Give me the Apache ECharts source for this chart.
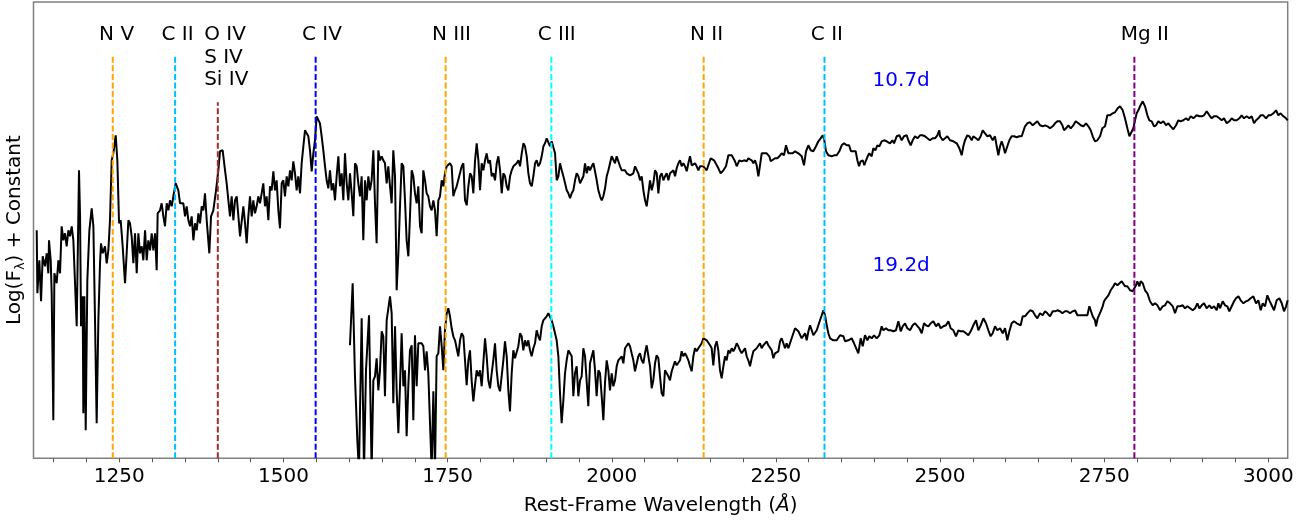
<!DOCTYPE html>
<html><head><meta charset="utf-8">
<script src="https://cdn.jsdelivr.net/npm/echarts@6/dist/echarts.min.js"></script>
<style>html,body{margin:0;padding:0;background:#fff}#c{width:1308px;height:523px}</style>
</head><body><div id="c"></div>
<script>
// Spectrum at 10.7 d : [wavelength (Å), log flux + constant]
const spec107 = [[1124.2,2.28],[1125.2,1.65],[1128.2,1.98],[1130.8,1.57],[1133.3,2.02],[1136.8,1.92],[1139.4,2.05],[1141.9,1.85],[1142.9,2.18],[1145.5,1.98],[1147.0,1.65],[1149.5,0.38],[1151.1,1.85],[1154.6,1.75],[1157.2,1.98],[1159.7,1.85],[1162.2,2.32],[1164.8,2.18],[1167.3,2.25],[1169.8,2.12],[1172.4,2.28],[1174.9,2.22],[1177.5,2.32],[1180.0,2.18],[1185.1,1.32],[1188.6,2.88],[1190.2,2.42],[1191.7,1.32],[1194.2,1.62],[1195.2,0.45],[1196.8,1.62],[1198.8,0.28],[1201.3,1.78],[1204.4,2.28],[1207.9,2.50],[1210.5,2.32],[1213.0,1.38],[1215.5,0.35],[1218.1,1.38],[1220.6,1.95],[1222.1,2.15],[1224.7,2.05],[1228.2,2.12],[1230.8,1.95],[1233.3,2.08],[1235.8,2.38],[1238.4,2.98],[1240.9,3.05],[1244.5,3.23],[1247.0,2.98],[1249.6,2.35],[1252.1,2.38],[1255.1,2.12],[1258.7,1.75],[1261.2,2.05],[1263.8,2.38],[1266.3,2.35],[1268.8,2.22],[1271.4,1.95],[1273.9,2.25],[1276.5,1.85],[1279.0,2.25],[1281.5,2.05],[1284.1,2.12],[1286.6,1.98],[1289.2,2.28],[1291.7,1.98],[1294.2,2.18],[1296.8,2.08],[1299.3,2.25],[1301.8,2.08],[1304.4,2.25],[1306.9,1.88],[1308.4,2.45],[1312.0,2.48],[1314.5,2.55],[1317.1,2.42],[1319.6,2.32],[1322.2,2.55],[1324.7,2.48],[1327.2,2.58],[1329.8,2.52],[1332.3,2.62],[1335.9,2.75],[1339.9,2.68],[1342.5,2.55],[1347.5,2.55],[1350.1,2.42],[1352.6,2.52],[1355.2,2.38],[1357.7,2.32],[1360.2,2.42],[1362.8,2.18],[1365.3,2.35],[1367.9,2.28],[1370.4,2.45],[1372.9,2.35],[1375.5,2.52],[1378.0,2.48],[1380.5,2.65],[1383.1,2.38],[1387.1,2.05],[1389.7,2.42],[1393.2,2.48],[1397.3,2.68],[1400.8,2.88],[1403.4,3.07],[1407.4,3.08],[1411.0,2.88],[1413.5,2.75],[1416.1,2.58],[1418.6,2.42],[1421.1,2.62],[1423.7,2.38],[1426.2,2.58],[1428.8,2.62],[1431.3,2.62],[1433.9,2.22],[1438.9,2.52],[1441.5,2.35],[1444.0,2.15],[1446.5,2.42],
[1449.0,2.62],[1451.6,2.42],[1454.1,2.58],[1456.6,2.45],[1459.2,2.52],[1461.7,2.62],[1464.3,2.55],[1466.8,2.65],[1469.3,2.75],[1471.9,2.52],[1474.4,2.62],[1477.0,2.38],[1479.5,2.72],[1482.0,2.68],[1484.6,2.87],[1487.1,2.68],[1489.6,2.78],[1492.2,2.48],[1494.7,2.30],[1497.3,2.75],[1499.8,2.78],[1502.3,2.62],[1504.9,2.82],[1507.4,2.72],[1510.0,2.88],[1512.5,2.78],[1515.0,2.97],[1517.6,2.85],[1520.1,2.68],[1522.6,2.82],[1525.2,2.65],[1527.7,2.95],[1530.3,3.12],[1532.8,3.28],[1535.3,3.25],[1537.9,3.22],[1540.4,3.08],[1543.0,2.87],[1545.5,3.05],[1548.0,3.18],[1550.6,3.42],[1553.1,3.43],[1555.6,3.35],[1558.2,3.22],[1560.7,3.08],[1563.3,2.92],[1565.8,2.78],[1568.3,2.70],[1570.9,2.88],[1573.4,2.68],[1576.0,2.75],[1578.5,2.58],[1581.0,2.82],[1583.6,3.02],[1586.1,2.72],[1588.6,2.85],[1591.2,2.58],[1593.7,3.05],[1596.3,2.75],[1598.8,2.58],[1601.3,2.85],[1603.9,2.65],[1606.4,2.42],[1609.0,2.95],[1611.5,2.92],[1614.0,2.75],[1616.6,2.62],[1619.1,2.82],[1621.6,2.18],[1624.2,2.78],[1626.7,2.58],[1629.3,2.82],[1631.8,2.68],[1634.3,2.78],[1636.9,3.08],[1639.4,2.55],[1641.9,2.15],[1644.5,3.08],[1647.0,2.98],[1649.6,3.02],[1652.1,2.98],[1654.6,2.95],[1657.2,2.75],[1659.7,2.92],[1662.3,2.72],[1664.8,2.55],[1667.3,3.08],[1669.9,2.82],[1672.4,1.68],[1675.0,2.05],[1677.5,2.52],[1680.0,2.95],[1682.6,2.92],[1685.1,2.58],[1687.6,2.18],[1690.2,2.02],[1692.7,2.42],[1695.3,2.88],[1697.8,2.82],[1700.3,2.65],[1702.9,2.55],[1705.4,2.72],[1708.0,2.32],[1710.5,2.25],[1713.0,2.88],[1715.6,2.78],[1718.1,2.65],[1720.6,2.62],[1723.2,2.52],[1725.7,2.48],[1728.3,2.58],[1730.8,2.48],[1733.3,2.22],[1735.9,2.58],[1738.4,2.62],[1741.0,2.78],[1743.5,2.72],[1746.0,2.85],[1748.6,2.92],[1751.1,2.90],[1753.6,2.95],[1756.2,2.92],[1758.7,2.62],[1761.3,2.68],[1763.8,2.72],
[1766.4,2.72],[1771.5,2.92],[1774.0,2.95],[1776.5,2.58],[1779.1,2.53],[1781.6,2.72],[1784.2,2.85],[1786.7,2.82],[1789.2,2.65],[1791.8,2.98],[1794.3,3.15],[1796.9,2.98],[1799.4,2.68],[1801.9,2.95],[1804.5,2.88],[1807.0,2.98],[1809.5,3.05],[1812.1,2.95],[1814.6,2.98],[1817.2,2.82],[1819.7,2.85],[1822.2,2.78],[1824.8,2.95],[1827.3,3.02],[1829.9,2.88],[1832.4,2.65],[1834.9,2.85],[1837.5,2.82],[1840.0,2.72],[1842.5,2.68],[1845.1,2.82],[1847.6,2.88],[1850.2,2.92],[1855.2,2.95],[1857.8,2.98],[1860.3,2.92],[1862.9,3.05],[1865.4,3.15],[1867.9,3.12],[1870.5,3.02],[1873.0,2.85],[1875.5,2.75],[1878.1,2.72],[1880.6,2.82],[1883.2,2.95],[1885.7,2.98],[1888.2,2.92],[1890.8,2.95],[1893.3,3.02],[1895.9,3.12],[1898.4,3.15],[1900.9,3.20],[1903.5,3.22],[1906.0,3.12],[1908.5,3.17],[1911.1,3.18],[1913.6,3.05],[1916.2,2.78],[1918.7,2.82],[1921.2,2.95],[1923.8,2.88],[1926.3,2.82],[1928.9,2.75],[1931.4,2.68],[1933.9,2.65],[1936.5,2.60],[1939.0,2.65],[1941.5,2.68],[1944.1,2.78],[1946.6,2.85],[1949.2,2.82],[1951.7,2.75],[1954.2,2.77],[1956.8,2.82],[1959.3,2.95],[1961.9,2.85],[1964.4,2.92],[1966.9,2.88],[1969.5,2.92],[1972.0,2.95],[1974.5,2.87],[1977.1,2.78],[1979.6,2.68],[1982.2,2.62],[1984.7,2.58],[1987.2,2.62],[1989.8,2.70],[1992.3,2.82],[1994.9,2.88],[1997.4,2.95],[1999.9,3.02],[2002.5,3.00],[2005.0,2.95],[2007.5,3.02],[2010.1,3.00],[2012.6,2.92],[2015.2,2.88],[2017.7,2.87],[2020.2,2.88],[2022.8,2.85],[2025.3,2.87],[2027.9,2.83],[2030.4,2.82],[2032.9,2.85],[2035.5,2.92],[2038.0,2.93],[2040.5,2.85],[2043.1,2.78],[2045.6,2.82],[2048.2,2.68],[2050.7,2.58],[2053.2,2.52],[2055.8,2.65],[2058.3,2.78],[2060.9,2.68],[2063.4,2.75],[2065.9,2.88],[2068.5,2.85],[2071.0,2.65],[2073.5,2.82],[2076.1,2.85],[2078.6,2.78],[2081.2,2.82],[2083.7,2.85],[2086.2,2.78],[2088.8,2.85],[2091.3,2.85],[2093.9,2.88],[2096.4,2.82],[2098.9,2.90],[2101.5,2.95],[2104.0,2.98],[2106.5,2.92],[2109.1,2.95],[2111.6,2.92],[2114.2,2.87],[2116.7,2.95],[2119.2,3.02],[2121.8,2.93],[2124.3,2.93],[2126.8,2.95],[2129.4,2.92],
[2131.9,2.88],[2134.4,2.92],[2139.5,2.92],[2142.0,2.90],[2144.6,2.88],[2147.1,2.93],[2150.7,3.00],[2153.7,3.02],[2155.8,2.98],[2158.8,2.97],[2162.4,2.90],[2165.9,2.85],[2170.0,2.88],[2174.0,2.92],[2177.6,3.03],[2182.7,3.03],[2185.2,3.02],[2187.7,2.97],[2190.3,2.92],[2194.3,2.98],[2197.9,2.97],[2201.4,2.98],[2205.5,2.97],[2208.0,3.00],[2210.6,3.02],[2213.1,2.98],[2215.7,2.95],[2218.2,2.98],[2220.7,2.93],[2223.3,2.82],[2225.8,2.93],[2228.4,3.05],[2230.9,3.07],[2236.0,3.05],[2240.0,3.02],[2242.1,2.97],[2245.1,2.95],[2248.7,3.00],[2252.2,3.00],[2255.3,3.02],[2258.8,3.05],[2262.4,3.03],[2265.4,3.13],[2269.0,3.05],[2271.5,3.03],[2275.6,3.05],[2279.1,3.07],[2281.7,3.08],[2284.2,3.05],[2286.7,3.03],[2289.3,3.02],[2292.8,2.93],[2295.9,3.07],[2299.4,3.13],[2303.0,3.08],[2307.0,3.07],[2311.1,3.12],[2314.7,3.17],[2318.2,3.20],[2321.3,3.23],[2323.8,3.18],[2326.3,3.07],[2329.9,3.03],[2335.0,3.02],[2338.5,3.03],[2342.6,3.03],[2346.6,3.07],[2350.2,3.13],[2353.8,3.15],[2357.8,3.13],[2361.4,3.13],[2364.4,3.07],[2368.0,3.07],[2371.5,3.07],[2374.1,2.98],[2376.6,2.92],[2379.1,2.97],[2382.2,2.98],[2384.7,2.93],[2387.3,2.98],[2389.8,3.02],[2392.3,3.05],[2395.9,3.02],[2398.4,3.10],[2401.5,3.08],[2404.5,3.13],[2407.6,3.12],[2411.1,3.17],[2414.7,3.18],[2418.7,3.17],[2421.3,3.18],[2423.8,3.15],[2427.4,3.18],[2429.9,3.15],[2434.0,3.22],[2438.0,3.23],[2441.6,3.18],[2445.1,3.22],[2449.2,3.23],[2451.7,3.18],[2455.3,3.13],[2458.3,3.18],[2461.9,3.22],[2465.5,3.20],[2469.5,3.23],[2473.1,3.23],[2477.1,3.22],[2480.7,3.20],[2484.7,3.18],[2488.8,3.20],[2492.4,3.20],[2495.9,3.23],[2498.9,3.28],
[2500.0,3.22],[2504.0,3.18],[2507.6,3.20],[2511.1,3.22],[2515.2,3.18],[2520.3,3.17],[2525.4,3.15],[2529.4,3.10],[2533.0,3.03],[2535.5,3.12],[2538.0,3.18],[2541.6,3.23],[2544.7,3.22],[2548.2,3.18],[2550.7,3.22],[2554.8,3.20],[2558.4,3.18],[2561.9,3.22],[2565.0,3.28],[2568.5,3.25],[2572.1,3.22],[2576.1,3.23],[2580.2,3.18],[2583.7,3.22],[2586.3,3.12],[2588.8,3.03],[2591.4,3.12],[2593.9,3.17],[2596.4,3.12],[2599.0,3.05],[2602.5,3.12],[2605.6,3.18],[2609.1,3.22],[2612.7,3.22],[2616.8,3.21],[2620.8,3.22],[2624.4,3.22],[2626.9,3.27],[2629.4,3.32],[2633.0,3.35],[2637.1,3.36],[2641.1,3.33],[2644.7,3.35],[2648.2,3.37],[2652.3,3.33],[2656.3,3.32],[2659.9,3.33],[2663.5,3.32],[2667.5,3.30],[2671.6,3.32],[2675.1,3.35],[2678.7,3.37],[2682.7,3.37],[2686.3,3.33],[2688.8,3.28],[2691.9,3.30],[2695.4,3.33],[2699.0,3.30],[2703.0,3.33],[2706.6,3.37],[2710.7,3.35],[2714.2,3.33],[2718.3,3.32],[2722.3,3.35],[2725.9,3.32],[2729.5,3.28],[2732.5,3.22],[2736.0,3.17],[2739.6,3.18],[2743.7,3.22],[2747.2,3.30],[2751.3,3.32],[2754.8,3.43],[2758.9,3.43],[2762.9,3.45],[2766.5,3.46],[2770.6,3.50],[2774.1,3.52],[2778.2,3.48],[2781.7,3.40],[2785.3,3.30],[2788.4,3.22],[2790.9,3.23],[2794.4,3.30],[2797.0,3.38],[2799.5,3.45],[2802.1,3.48],[2804.6,3.52],[2808.7,3.57],[2812.2,3.52],[2815.8,3.43],[2818.8,3.38],[2822.4,3.37],[2825.9,3.32],[2829.0,3.33],[2832.5,3.37],[2836.1,3.35],[2840.1,3.37],[2844.2,3.33],[2847.7,3.35],[2851.3,3.32],[2855.4,3.29],[2859.4,3.33],[2863.0,3.38],[2866.5,3.37],[2870.6,3.38],[2874.7,3.40],[2878.2,3.38],[2881.8,3.42],[2885.8,3.40],[2890.9,3.43],[2895.0,3.42],[2898.5,3.42],[2902.1,3.43],[2906.1,3.47],[2910.2,3.43],[2913.7,3.40],[2917.3,3.42],[2921.4,3.42],[2925.4,3.40],[2929.0,3.38],[2932.5,3.40],[2936.6,3.35],[2940.6,3.37],[2944.2,3.40],[2947.8,3.38],[2951.8,3.38],[2955.9,3.40],[2959.4,3.43],[2963.0,3.40],[2967.0,3.42],[2971.1,3.40],[2974.7,3.42],[2978.2,3.35],[2981.3,3.38],[2984.8,3.40],[2988.4,3.43],[2992.4,3.43],[2996.5,3.40],[3000.1,3.43],[3003.6,3.43],[3007.7,3.45],[3011.7,3.48],[3015.3,3.43],[3018.8,3.45],[3022.9,3.42],[3026.9,3.40],[3029.5,3.38]];

// Spectrum at 19.2 d
const spec192 = [[1601.3,1.13],[1605.4,1.75],[1608.9,0.82],[1612.5,0.18],[1615.0,-0.12],[1619.1,1.40],[1622.7,-0.12],[1625.7,0.88],[1630.3,1.43],[1634.3,-0.12],[1636.9,0.78],[1639.4,0.82],[1641.9,1.00],[1644.5,0.68],[1647.0,0.88],[1649.6,1.27],[1652.1,1.22],[1654.6,0.62],[1657.2,1.38],[1662.3,1.62],[1664.8,1.45],[1667.3,0.55],[1669.9,1.32],[1672.4,0.68],[1675.0,0.25],[1677.5,0.72],[1680.0,1.25],[1682.6,0.72],[1685.1,0.88],[1687.6,0.22],[1690.2,0.73],[1692.7,1.08],[1695.3,1.13],[1697.8,0.38],[1700.3,1.23],[1702.9,0.72],[1705.4,1.15],[1708.0,1.17],[1710.5,1.15],[1713.0,1.12],[1715.6,0.88],[1718.1,1.07],[1720.6,0.85],[1723.2,0.35],[1725.7,-0.12],[1728.3,0.67],[1730.8,-0.12],[1733.3,1.02],[1735.9,1.05],[1738.4,1.32],[1741.0,1.12],[1743.5,0.88],[1746.0,1.28],[1748.6,1.45],[1751.1,1.50],[1753.6,1.42],[1756.2,1.30],[1758.7,1.22],[1761.3,1.18],[1763.8,1.20],[1766.3,1.02],[1768.9,1.18],[1771.4,1.25],[1774.0,1.22],[1776.5,0.98],[1779.0,0.73],[1781.6,0.98],[1784.1,1.08],[1786.6,0.78],[1789.2,0.57],[1791.7,0.73],[1794.3,0.88],[1796.8,0.82],[1799.3,0.88],[1801.9,0.72],[1804.4,0.95],[1807.0,1.20],[1809.5,1.02],[1812.0,0.78],[1814.6,0.70],[1817.1,0.85],[1819.6,0.98],[1822.2,1.15],[1824.7,0.88],[1827.3,0.72],[1829.8,0.67],[1832.3,0.82],[1834.9,0.98],[1837.4,1.17],[1840.0,1.02],[1842.5,0.68],[1845.0,0.47],[1847.6,0.85],[1850.1,1.08],[1852.6,1.00],[1855.2,0.98],[1857.7,1.12],[1860.3,1.25],[1862.8,1.22],[1865.3,1.08],[1867.9,1.18],[1870.4,1.12],[1872.9,1.18],[1875.5,1.08],[1878.0,1.02],[1880.6,1.10],[1883.1,1.15],[1885.6,1.28],[1888.2,1.22],[1890.7,1.18],
[1893.3,1.32],[1895.8,1.38],[1898.3,1.40],[1900.9,1.42],[1903.4,1.45],[1906.0,1.47],[1908.5,1.38],[1911.0,1.32],[1913.6,1.25],[1916.1,1.18],[1918.7,1.02],[1921.2,0.65],[1923.7,0.35],[1926.3,0.58],[1928.8,0.85],[1931.3,0.98],[1933.9,1.08],[1936.4,1.10],[1939.0,1.02],[1941.5,0.62],[1944.0,0.85],[1946.6,0.92],[1949.1,0.62],[1951.7,0.78],[1954.2,0.82],[1956.7,1.10],[1959.3,1.02],[1961.8,1.03],[1964.3,0.52],[1966.9,0.95],[1969.4,0.97],[1972.0,1.08],[1974.5,0.88],[1977.0,0.62],[1979.6,0.88],[1982.1,0.85],[1984.7,0.62],[1987.2,0.38],[1989.7,0.75],[1992.3,0.98],[1994.8,0.88],[1997.3,0.68],[1999.9,0.85],[2002.4,0.72],[2005.0,0.78],[2007.5,0.92],[2010.0,0.98],[2012.6,0.97],[2015.1,1.02],[2017.7,0.95],[2020.2,1.10],[2022.7,1.12],[2025.3,1.15],[2027.8,1.12],[2030.3,1.05],[2032.9,0.98],[2035.4,0.87],[2038.0,0.88],[2040.5,1.02],[2043.0,1.05],[2045.6,0.98],[2048.1,0.95],[2050.6,1.05],[2053.2,1.13],[2055.7,1.12],[2058.3,0.92],[2060.8,0.70],[2063.3,0.78],[2065.9,0.95],[2068.4,1.03],[2071.0,1.00],[2073.5,0.82],[2076.0,0.65],[2078.6,0.62],[2081.1,0.88],[2083.7,0.90],[2086.2,0.82],[2088.7,0.78],[2091.3,0.87],[2093.8,0.92],[2096.3,0.97],[2098.9,0.93],[2101.4,0.92],[2104.0,0.98],[2106.5,1.07],[2109.0,1.02],[2111.6,1.05],[2114.1,1.02],[2116.7,0.98],[2119.2,0.92],[2121.7,0.87],[2124.3,1.02],[2126.8,1.10],[2129.3,1.07],[2131.9,1.10],[2134.4,1.08],[2137.0,1.15],[2139.5,1.20],[2142.0,1.22],[2144.6,1.18],[2147.1,1.20],[2149.7,1.13],[2152.2,1.10],[2154.7,0.93],[2157.3,1.12],[2159.8,1.17],[2162.3,1.08],[2164.9,0.88],[2167.4,0.80],[2170.0,0.92],[2172.5,1.02],[2175.0,0.98],[2177.6,1.08],[2180.1,1.05],[2182.7,1.10],[2185.2,1.07],[2187.7,1.10],[2190.3,1.15],[2192.8,1.12],[2195.3,1.08],[2197.9,1.05],[2200.4,1.07],[2203.0,1.10],[2205.5,1.02],[2208.0,0.98],[2210.6,0.92],[2213.1,1.00],[2215.7,1.07],[2218.2,1.08],[2220.7,1.10],[2223.3,1.12],[2225.8,1.15],[2228.3,1.10],[2230.9,1.13],[2233.4,1.15],[2236.0,1.17],[2238.5,1.13],[2241.0,1.12],[2243.6,1.08],[2246.1,1.00],[2248.7,1.05],[2251.2,1.03],[2253.7,1.07],[2256.3,1.17],[2258.8,1.20],[2261.4,1.15],[2263.9,1.10],[2266.4,1.15],[2269.0,1.10],[2271.5,1.15],
[2276.6,1.25],[2279.2,1.30],[2284.2,1.27],[2289.3,1.20],[2291.9,1.22],[2294.4,1.25],[2296.9,1.18],[2299.5,1.27],[2302.0,1.33],[2307.1,1.23],[2309.6,1.25],[2312.2,1.28],[2314.7,1.33],[2317.2,1.38],[2319.8,1.43],[2322.3,1.48],[2324.9,1.43],[2327.4,1.33],[2329.9,1.25],[2332.5,1.20],[2335.0,1.22],[2337.5,1.18],[2340.1,1.17],[2342.6,1.18],[2347.7,1.23],[2350.2,1.25],[2352.8,1.22],[2355.3,1.17],[2357.8,1.15],[2360.4,1.18],[2362.9,1.20],
[2365.4,1.20],[2369.0,1.15],[2372.0,1.17],[2375.6,1.05],[2379.1,1.20],[2382.2,1.12],[2385.7,1.23],[2389.3,1.18],[2392.3,1.22],[2395.9,1.20],[2399.5,1.23],[2403.5,1.20],[2407.6,1.23],[2411.1,1.32],[2413.7,1.28],[2417.7,1.30],[2421.3,1.28],[2424.8,1.28],[2428.9,1.27],[2432.9,1.28],[2436.5,1.37],[2440.1,1.27],[2443.1,1.32],[2446.7,1.35],[2450.2,1.30],[2454.3,1.28],[2458.3,1.33],[2461.9,1.35],[2464.4,1.33],[2468.5,1.30],[2472.1,1.25],[2475.6,1.35],[2478.7,1.33],[2482.2,1.32],[2485.8,1.35],[2489.8,1.37],[2493.9,1.32],[2497.4,1.35],[2501.0,1.30],[2505.1,1.32],[2509.1,1.33],[2512.7,1.37],[2516.2,1.30],[2520.3,1.28],[2524.3,1.22],[2527.9,1.28],[2531.5,1.27],[2535.5,1.27],[2539.6,1.25],[2543.1,1.23],[2546.7,1.27],[2550.7,1.33],[2554.8,1.38],[2558.4,1.28],[2561.9,1.33],[2566.0,1.40],[2570.0,1.35],[2573.6,1.28],[2577.1,1.22],[2580.2,1.25],[2583.7,1.32],[2587.3,1.28],[2591.4,1.30],[2595.4,1.25],[2599.0,1.30],[2602.5,1.18],[2605.6,1.27],[2609.1,1.35],[2612.7,1.37],[2616.8,1.35],[2619.3,1.37],[2622.8,1.33],[2625.9,1.42],[2629.4,1.42],[2633.0,1.45],[2637.1,1.48],[2641.1,1.47],[2644.7,1.43],[2648.2,1.40],[2652.3,1.45],[2656.3,1.43],[2659.9,1.47],[2663.5,1.45],[2667.5,1.42],[2671.6,1.47],[2675.1,1.47],[2678.7,1.48],[2682.7,1.47],[2686.3,1.45],[2690.4,1.47],[2693.9,1.47],[2698.0,1.45],[2702.0,1.47],[2705.6,1.48],[2709.2,1.43],[2713.2,1.43],[2717.3,1.43],[2720.8,1.43],[2724.4,1.43],[2727.4,1.52],[2729.5,1.50],[2732.5,1.42],[2736.0,1.38],[2737.6,1.32],[2740.1,1.40],[2742.7,1.38],[2744.7,1.47],[2747.7,1.52],[2749.8,1.57],[2752.8,1.60],[2756.4,1.63],[2759.9,1.68],[2764.0,1.72],[2766.5,1.75],[2770.1,1.73],[2773.1,1.75],[2776.7,1.77],[2779.2,1.78],[2781.7,1.72],[2785.3,1.72],[2789.4,1.68],[2793.4,1.67],[2795.5,1.65],[2798.5,1.73],[2800.5,1.77],[2803.6,1.72],[2805.6,1.77],[2808.7,1.75],[2812.2,1.68],[2815.8,1.65],[2819.8,1.57],[2823.9,1.53],[2827.4,1.55],[2831.0,1.53],[2835.1,1.48],[2839.1,1.52],[2842.7,1.53],[2846.2,1.57],[2850.3,1.55],[2854.4,1.52],[2857.9,1.45],[2861.5,1.52],[2865.5,1.52],[2869.6,1.53],[2873.1,1.50],[2876.7,1.52],[2880.8,1.50],[2884.8,1.48],[2888.4,1.50],[2891.9,1.55],[2895.0,1.50],[2898.5,1.53],[2902.1,1.55],[2906.1,1.50],[2910.2,1.53],[2913.7,1.50],[2917.3,1.52],[2921.4,1.48],[2923.9,1.55],[2926.4,1.50],[2930.5,1.57],[2934.0,1.53],[2937.6,1.52],[2940.6,1.47],[2944.2,1.52],[2947.8,1.57],[2950.8,1.60],[2954.4,1.62],[2957.9,1.58],[2962.0,1.55],[2966.0,1.57],[2969.6,1.58],[2973.1,1.60],[2977.2,1.62],[2981.3,1.55],[2984.8,1.58],[2988.4,1.48],[2991.4,1.55],[2995.0,1.52],[2998.5,1.63],[3001.6,1.58],[3005.1,1.53],[3008.7,1.48],[3012.7,1.58],[3016.8,1.60],[3020.4,1.55],[3023.9,1.47],[3027.0,1.52],[3029.5,1.58]];

// Line identifications
const lineWaves  = [1240, 1335, 1400, 1549, 1747, 1908, 2140, 2324, 2796];
const lineColors = ['#ffa500', '#00bfff', '#a52a2a', '#0000ff', '#ffa500', '#00ffff', '#ffa500', '#00bfff', '#800080'];
const lineTops   = [4.02, 4.02, 3.56, 4.02, 4.02, 4.02, 4.02, 4.02, 4.02];
const labelTexts  = ['N V', 'C II', 'O IV', 'S IV', 'Si IV', 'C IV', 'N III', 'C III', 'N II', 'C II', 'Mg II'];
const labelWaves  = [1220, 1315, 1380, 1380, 1380, 1529, 1727, 1888, 2120, 2304, 2776];
const labelLevels = [4.23, 4.23, 4.23, 4.005, 3.78, 4.23, 4.23, 4.23, 4.23, 4.23, 4.23];
// Epoch labels
const epochTexts  = ['10.7d', '19.2d'];
const epochWaves  = [2398, 2398];
const epochLevels = [3.77, 1.92];
// Axis ticks
const tickLabels = [1250, 1500, 1750, 2000, 2250, 2500, 2750, 3000];
const tickMarks  = [1150,1200,1250,1300,1350,1400,1450,1500,1550,1600,1650,1700,1750,1800,1850,1900,1950,2000,2050,2100,2150,2200,2250,2300,2350,2400,2450,2500,2550,2600,2650,2700,2750,2800,2850,2900,2950,3000];

const FONT = 'DejaVu Sans';
const chart = echarts.init(document.getElementById('c'), null, {renderer: 'canvas'});

const series = [];
[spec107, spec192].forEach(function (d) {
  series.push({type: 'line', data: d, symbol: 'none', silent: true, clip: true, z: 2,
    lineStyle: {color: '#000', width: 2}});
});
lineWaves.forEach(function (w, i) {
  series.push({type: 'line', data: [[w, 0], [w, lineTops[i]]], symbol: 'none', silent: true, z: 3,
    lineStyle: {color: lineColors[i], width: 2, type: [6, 2.6]}});
});
function textSeries(texts, waves, levels, color) {
  return {type: 'scatter', silent: true, symbolSize: 1, z: 4,
    itemStyle: {color: 'rgba(0,0,0,0)', opacity: 1},
    data: texts.map(function (t, i) { return {name: t, value: [waves[i], levels[i]]}; }),
    label: {show: true, position: [0, 0], align: 'left', verticalAlign: 'middle', formatter: '{b}',
      fontFamily: FONT, fontSize: 20, color: color, opacity: 1}};
}
series.push(textSeries(labelTexts, labelWaves, labelLevels, '#000'));
series.push(textSeries(epochTexts, epochWaves, epochLevels, '#0000ff'));

chart.setOption({
  animation: false,
  backgroundColor: '#fff',
  grid: {left: 33.5, right: 20.3, top: 2, bottom: 64.7, show: true, borderColor: '#808080', borderWidth: 1.5,
    backgroundColor: '#fff', containLabel: false, outerBoundsMode: 'none'},
  xAxis: {type: 'value', min: 1119.3, max: 3029.5,
    axisLine: {show: false}, splitLine: {show: false},
    axisTick: {show: true, customValues: tickMarks, length: 4, lineStyle: {color: '#555', width: 1}},
    axisLabel: {customValues: tickLabels, formatter: function (v) { return String(v); },
      fontFamily: FONT, fontSize: 20, color: '#000', margin: 8},
    name: 'Rest-Frame Wavelength ({i|Å})', nameLocation: 'middle', nameGap: 37,
    nameTextStyle: {fontFamily: FONT, fontSize: 20, color: '#000',
      rich: {i: {fontFamily: FONT, fontSize: 20, fontStyle: 'italic', color: '#000'}}}},
  yAxis: {type: 'value', min: 0, max: 4.563,
    axisLine: {show: false}, axisTick: {show: false}, axisLabel: {show: false}, splitLine: {show: false},
    name: 'Log(F{s|λ}) + Constant', nameLocation: 'middle', nameGap: 6, nameRotate: 90,
    nameTextStyle: {fontFamily: FONT, fontSize: 20, color: '#000',
      rich: {s: {fontFamily: FONT, fontSize: 13, color: '#000', verticalAlign: 'bottom', padding: [12, 0, 0, 0]}}}},
  series: series
});
</script></body></html>
